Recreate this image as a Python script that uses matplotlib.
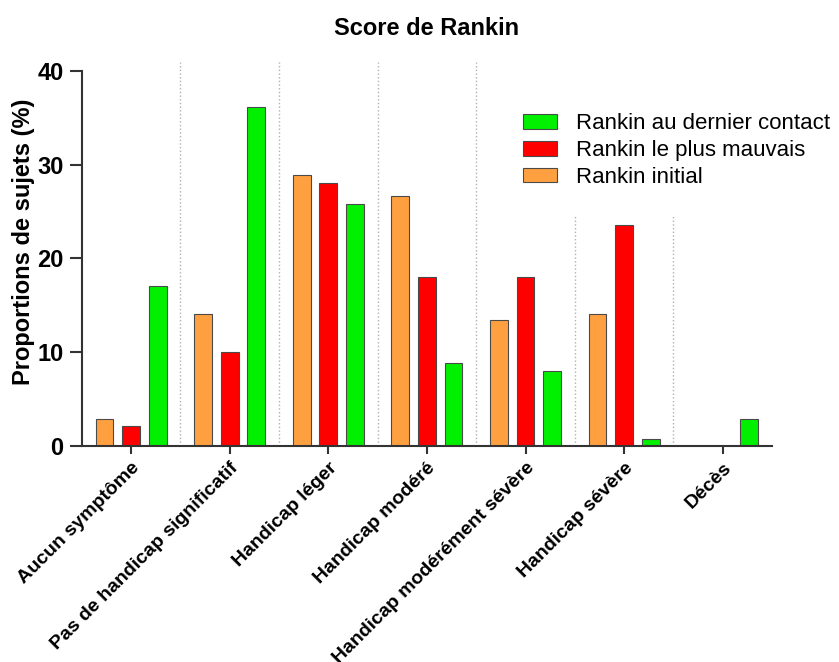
import numpy as np
import matplotlib.pyplot as plt

plt.rcParams["font.family"] = ["Liberation Sans", "DejaVu Sans"]

categories = [
    "Aucun symptôme",
    "Pas de handicap significatif",
    "Handicap léger",
    "Handicap modéré",
    "Handicap modérément sévère",
    "Handicap sévère",
    "Décès",
]
rankin_initial = [2.8, 14.1, 28.9, 26.7, 13.4, 14.1, 0.0]
rankin_pire = [2.1, 10.0, 28.0, 18.0, 18.0, 23.6, 0.0]
rankin_dernier = [17.0, 36.2, 25.8, 8.8, 8.0, 0.7, 2.9]

x = np.arange(len(categories))
w = 0.18
off = 0.27

fig = plt.figure(figsize=(8.39, 6.62), dpi=100)
ax = fig.add_axes([0.0974, 0.3268, 0.8228, 0.58])

b_init = ax.bar(x - off, rankin_initial, w, color="#FFA040", edgecolor="#4a4a4a", linewidth=0.8, label="Rankin initial")
b_pire = ax.bar(x, rankin_pire, w, color="#FF0000", edgecolor="#4a4a4a", linewidth=0.8, label="Rankin le plus mauvais")
b_dern = ax.bar(x + off, rankin_dernier, w, color="#00F000", edgecolor="#4a4a4a", linewidth=0.8, label="Rankin au dernier contact")

# dotted separators between categories
for i, sep in enumerate(x[:-1] + 0.5):
    top = 41 if i < 4 else 24.6
    ax.plot([sep, sep], [0, top], color="#b0b0b0", linestyle=":", linewidth=1.0, zorder=0)

ax.set_xlim(-0.5, 6.5)
ax.set_ylim(0, 41)
ax.set_yticks([0, 10, 20, 30, 40])
ax.spines["left"].set_bounds(0, 40)
ax.spines["top"].set_visible(False)
ax.spines["right"].set_visible(False)
for s in ["left", "bottom"]:
    ax.spines[s].set_linewidth(1.5)
    ax.spines[s].set_color("#333333")
ax.tick_params(axis="y", length=9, width=1.5, color="#333333", labelsize=17, pad=4)
ax.tick_params(axis="x", length=6, width=1.5, color="#333333", labelsize=14, pad=4)
ax.set_xticks(x)
ax.set_xticklabels(categories, rotation=45, ha="right", rotation_mode="anchor", fontweight="bold")
for lab in ax.get_yticklabels():
    lab.set_fontweight("bold")
ax.set_ylabel("Proportions de sujets (%)", fontsize=17, fontweight="bold")
ax.yaxis.set_label_coords(-0.068, 0.53)
ax.set_title("Score de Rankin", fontsize=17, fontweight="bold", pad=19)

ax.legend(
    [b_dern, b_pire, b_init],
    ["Rankin au dernier contact", "Rankin le plus mauvais", "Rankin initial"],
    loc="upper left",
    bbox_to_anchor=(0.6234, 0.8288),
    bbox_transform=fig.transFigure,
    frameon=False,
    fontsize=16,
    borderpad=0,
    borderaxespad=0,
    handlelength=1.53,
    handleheight=0.63,
    handletextpad=0.86,
    labelspacing=0.26,
)

fig.savefig("out.png", dpi=100)
